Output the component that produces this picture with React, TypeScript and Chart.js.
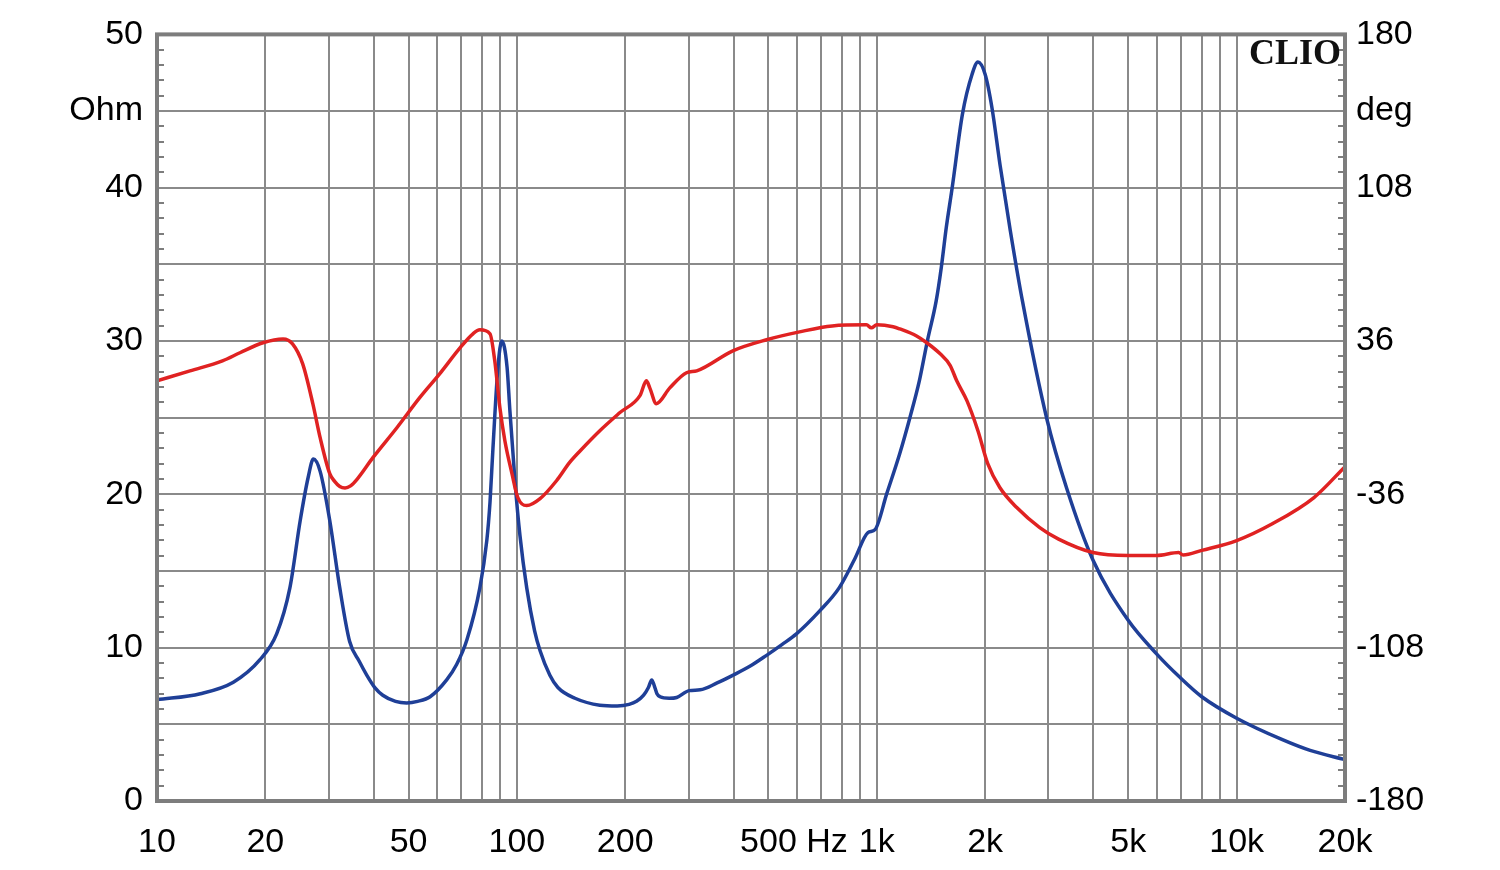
import React, { useEffect, useRef } from 'react';
import { Chart, registerables } from 'chart.js';

Chart.register(...registerables);

// ---- Data ----
const IMP_FREQ = [10, 13.2, 16.3, 19.3, 21.5, 23.4, 25, 26.3, 27.2, 28.4, 30.2, 32.2, 34.3, 36.5, 38.3, 40.3, 42.4, 46, 49.4, 53, 57.4, 63.8, 68, 72.6, 78.9, 82.5, 84.2, 85.8, 88.6, 90.8, 93.9, 95.6, 98.9, 102, 106.5, 112, 116, 123.5, 130, 145, 170, 190, 205, 215, 225, 232, 237, 241, 245, 250, 265, 278, 301, 323, 360, 398, 445, 494, 545, 598, 694, 786, 869, 945, 989, 1066, 1158, 1236, 1313, 1382, 1462, 1511, 1560, 1620, 1730, 1840, 1910, 2000, 2090, 2200, 2350, 2540, 2970, 3370, 3990, 4990, 5990, 6930, 8000, 10000, 13400, 16000, 20000];
const IMP_OHM = [6.6, 7.0, 7.75, 9.2, 10.9, 13.9, 18.3, 21.1, 22.3, 21.5, 18.3, 13.9, 10.4, 9.1, 8.2, 7.4, 6.9, 6.5, 6.4, 6.5, 6.8, 7.9, 8.9, 10.5, 13.9, 17, 19.5, 23, 28.3, 30, 28.3, 25.5, 20.7, 17.3, 13.9, 11.1, 9.8, 8.2, 7.4, 6.7, 6.25, 6.2, 6.3, 6.5, 6.9, 7.4, 7.9, 7.5, 7.0, 6.8, 6.7, 6.75, 7.2, 7.25, 7.7, 8.2, 8.8, 9.5, 10.2, 10.9, 12.4, 13.9, 15.8, 17.5, 17.7, 20.05, 22.65, 25.0, 27.4, 30.0, 32.6, 34.8, 37.4, 40, 44.8, 47.4, 48.2, 47.4, 45.2, 41.5, 37.2, 32.6, 24.9, 20.4, 15.7, 11.8, 9.6, 8.1, 6.8, 5.4, 4.0, 3.3, 2.7];

const PH_FREQ = [10, 12.35, 15.2, 17, 19.7, 22.4, 23.8, 25.4, 27.1, 28.4, 30.2, 31.2, 32.2, 33.3, 34.5, 36, 39.8, 46.4, 53.7, 61, 69.5, 75.5, 78.9, 84.2, 86.8, 89.7, 92.6, 96.9, 100.6, 106.5, 116, 129, 140, 150, 170, 193, 220, 229, 234, 244, 266, 296, 316, 398, 494, 610, 752, 936, 966, 1000, 1110, 1158, 1290, 1377, 1500, 1600, 1668, 1780, 1910, 2034, 2197, 2449, 2837, 3200, 3990, 4990, 5990, 6900, 7100, 8000, 10000, 12600, 16400, 20000];
const PH_DEG = [17.3, 22, 26.7, 30.5, 35.2, 37, 34.7, 25.3, 6.6, -9.4, -26.3, -30, -32.3, -33, -32, -28.8, -18.75, -4.7, 9.4, 20.6, 32.8, 39.4, 41.25, 39.4, 26.7, 4.7, -10.8, -26.3, -37.5, -41.25, -38, -29.5, -21.1, -15.5, -6.1, 2.3, 10.5, 17.3, 14, 6.6, 14, 21.1, 22, 31.4, 36.6, 40.3, 43.1, 43.6, 42.2, 43.6, 42.7, 41.7, 38.4, 35.2, 30, 24.5, 17.3, 8, -6.1, -21.6, -32.8, -42.2, -51.6, -57, -63.3, -64.7, -64.7, -63.3, -64.5, -62.3, -57.7, -49.7, -37.5, -23];

const X_GRID = [10, 20, 30, 40, 50, 60, 70, 80, 90, 100, 200, 300, 400, 500, 600, 700, 800, 900, 1000, 2000, 3000, 4000, 5000, 6000, 7000, 8000, 9000, 10000, 20000];
const X_LABEL_VALUES = [10, 20, 50, 100, 200, 500, 1000, 2000, 5000, 10000, 20000];
const X_LABEL_TEXT = ['10', '20', '50', '100', '200', '500', '1k', '2k', '5k', '10k', '20k'];
const LEFT_LABEL_VALUES = [0, 10, 20, 30, 40, 45, 50];
const LEFT_LABEL_TEXT = ['0', '10', '20', '30', '40', 'Ohm', '50'];
const RIGHT_LABEL_VALUES = [-180, -108, -36, 36, 108, 144, 180];
const RIGHT_LABEL_TEXT = ['-180', '-108', '-36', '36', '108', 'deg', '180'];

const FONT_FAMILY = '"Liberation Sans", Arial, sans-serif';
const FONT_SIZE = 34;
const GRID_COLOR = '#8a8a8a';
const FRAME_COLOR = '#7d7d7d';
const X_PAD = 21;

const decorPlugin = {
  id: 'decor',
  afterDraw(chart: any) {
    const { ctx, chartArea } = chart;
    const { left, right, top, bottom } = chartArea;
    const yS = chart.scales.y;
    const xS = chart.scales.x;
    ctx.save();
    // minor ticks
    ctx.strokeStyle = FRAME_COLOR;
    ctx.lineWidth = 2;
    for (let v = 1; v < 50; v++) {
      if (v % 5 === 0) continue;
      const y = Math.round(yS.getPixelForValue(v));
      ctx.beginPath();
      ctx.moveTo(left, y);
      ctx.lineTo(left + 7, y);
      ctx.moveTo(right - 7, y);
      ctx.lineTo(right, y);
      ctx.stroke();
    }
    // frame
    ctx.strokeStyle = FRAME_COLOR;
    ctx.lineWidth = 4;
    ctx.strokeRect(left, top, right - left, bottom - top);
    // CLIO
    ctx.fillStyle = '#111';
    ctx.font = 'bold 36px "Liberation Serif", "Times New Roman", serif';
    ctx.textAlign = 'right';
    ctx.textBaseline = 'alphabetic';
    ctx.fillText('CLIO', right - 4, top + 30);
    // Hz unit after 500
    ctx.font = `${FONT_SIZE}px ${FONT_FAMILY}`;
    ctx.fillStyle = '#000';
    const x500 = xS.getPixelForValue(500);
    const w = ctx.measureText('500').width;
    const sp = ctx.measureText(' ').width;
    ctx.textAlign = 'left';
    ctx.textBaseline = 'middle';
    ctx.fillText('Hz', x500 + w / 2 + sp, xS.top + X_PAD + (FONT_SIZE * 1.2) / 2);
    ctx.restore();
  },
};

export default function App() {
  const ref = useRef<HTMLCanvasElement | null>(null);

  useEffect(() => {
    if (!ref.current) return;
    const impData = IMP_FREQ.map((f, i) => ({ x: f, y: IMP_OHM[i] }));
    const phData = PH_FREQ.map((f, i) => ({ x: f, y: PH_DEG[i] }));
    const font = { family: FONT_FAMILY, size: FONT_SIZE };
    const chart = new Chart(ref.current, {
      type: 'line',
      data: {
        datasets: [
          {
            label: 'Phase',
            data: phData,
            yAxisID: 'y1',
            borderColor: '#e02222',
            borderWidth: 3.5,
            pointRadius: 0,
            cubicInterpolationMode: 'monotone',
            fill: false,
          },
          {
            label: 'Impedance',
            data: impData,
            yAxisID: 'y',
            borderColor: '#1f3f97',
            borderWidth: 3.5,
            pointRadius: 0,
            cubicInterpolationMode: 'monotone',
            fill: false,
          },
        ],
      },
      options: {
        responsive: false,
        animation: false,
        devicePixelRatio: 1,
        layout: { padding: { top: 33, left: 0, right: 0, bottom: 0 } },
        plugins: { legend: { display: false }, tooltip: { enabled: false }, title: { display: false } },
        scales: {
          x: {
            type: 'logarithmic',
            min: 10,
            max: 20000,
            afterBuildTicks: (s: any) => {
              s.ticks = X_GRID.map((v) => ({ value: v }));
            },
            afterFit: (s: any) => {
              s.height = 69;
            },
            ticks: {
              autoSkip: false,
              maxRotation: 0,
              minRotation: 0,
              padding: X_PAD,
              color: '#000',
              font,
              callback: (v: any) => {
                const i = X_LABEL_VALUES.indexOf(Number(v));
                return i >= 0 ? X_LABEL_TEXT[i] : '';
              },
            },
            grid: { color: GRID_COLOR, lineWidth: 2, drawTicks: false },
            border: { display: false },
          },
          y: {
            type: 'linear',
            position: 'left',
            min: 0,
            max: 50,
            afterFit: (s: any) => {
              s.width = 157;
            },
            ticks: {
              stepSize: 5,
              padding: 14,
              color: '#000',
              font,
              callback: (v: any) => {
                const i = LEFT_LABEL_VALUES.indexOf(Number(v));
                return i >= 0 ? LEFT_LABEL_TEXT[i] : '';
              },
            },
            grid: { color: GRID_COLOR, lineWidth: 2, drawTicks: false },
            border: { display: false },
          },
          y1: {
            type: 'linear',
            position: 'right',
            min: -180,
            max: 180,
            afterFit: (s: any) => {
              s.width = 155;
            },
            ticks: {
              stepSize: 36,
              padding: 11,
              color: '#000',
              font,
              callback: (v: any) => {
                const i = RIGHT_LABEL_VALUES.indexOf(Math.round(Number(v)));
                return i >= 0 ? RIGHT_LABEL_TEXT[i] : '';
              },
            },
            grid: { display: false, drawTicks: false },
            border: { display: false },
          },
        },
      },
      plugins: [decorPlugin],
    } as any);
    return () => chart.destroy();
  }, []);

  return (
    <div style={{ position: 'absolute', left: 0, top: 0, width: 1500, height: 870, background: '#fff' }}>
      <canvas ref={ref} width={1500} height={870} style={{ display: 'block' }} />
    </div>
  );
}
